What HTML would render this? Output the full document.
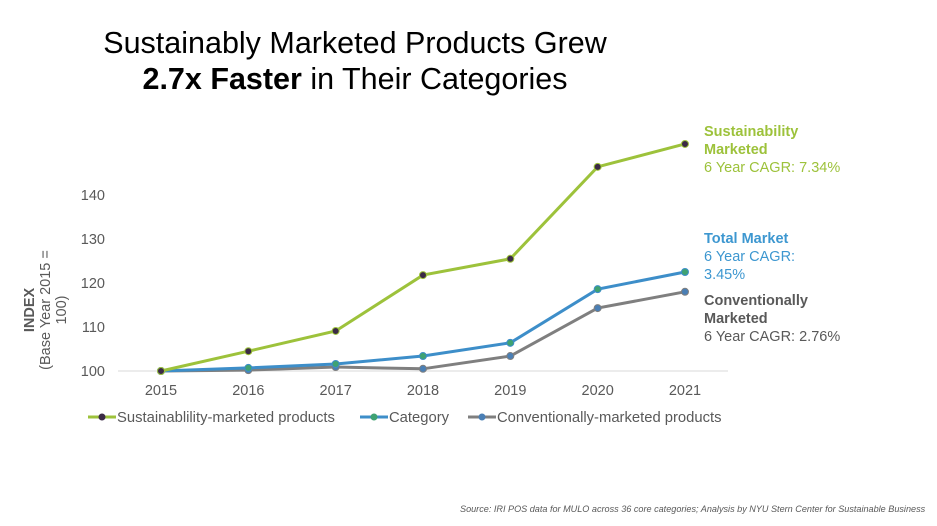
<!DOCTYPE html>
<html><head><meta charset="utf-8"><style>
body{margin:0;background:#fff;font-family:"Liberation Sans",sans-serif}
#wrap{position:relative;width:937px;height:526px;overflow:hidden}
.t{position:absolute;white-space:nowrap}
</style></head><body><div id="wrap">
<div class="t" style="left:0;width:710px;top:25px;text-align:center;font-size:30.5px;line-height:36px;color:#000">Sustainably Marketed Products Grew<br><b>2.7x Faster</b> in Their Categories</div>
<div class="t" style="left:704px;top:123px;font-size:14.5px;line-height:18px;color:#9dc23b"><b>Sustainability<br>Marketed</b><br>6 Year CAGR: 7.34%</div>
<div class="t" style="left:704px;top:230px;font-size:14.5px;line-height:18px;color:#3d97d0"><b>Total Market</b><br>6 Year CAGR:<br>3.45%</div>
<div class="t" style="left:704px;top:292px;font-size:14.5px;line-height:18px;color:#595959"><b>Conventionally<br>Marketed</b><br>6 Year CAGR: 2.76%</div>
<div class="t" style="left:460px;top:504px;font-size:9.1px;font-style:italic;color:#595959">Source: IRI POS data for MULO across 36 core categories; Analysis by NYU Stern Center for Sustainable Business</div>
<svg id="chart" width="937" height="526" style="position:absolute;left:0;top:0"></svg>
</div>
<script>
const years=["2015","2016","2017","2018","2019","2020","2021"];
const sustain=[100,104.5,109.1,121.8,125.5,146.4,151.6];
const category=[100,100.7,101.6,103.4,106.4,118.6,122.5];
const conventional=[100,100.2,100.9,100.5,103.4,114.3,118];
const yTicks=[100,110,120,130,140];
const NS="http://www.w3.org/2000/svg";
const svg=document.getElementById('chart');
const x=i=>161+i*87.33;
const y=v=>371-(v-100)*4.4;
function mk(t,a,p){const e=document.createElementNS(NS,t);for(const k in a)e.setAttribute(k,a[k]);(p||svg).appendChild(e);return e;}
const base=mk('line',{x1:118,x2:728,y1:y(100),y2:y(100),stroke:'#d9d9d9','stroke-width':1});


yTicks.forEach(v=>{const t=mk('text',{x:105,y:y(v)+5,'text-anchor':'end','font-size':14.5,fill:'#595959'});t.textContent=v;

});
years.forEach((yr,i)=>{const t=mk('text',{x:x(i),y:395,'text-anchor':'middle','font-size':14.5,fill:'#595959'});t.textContent=yr;

});
const yt=mk('text',{transform:'translate(34,310) rotate(-90)','text-anchor':'middle','font-size':14.5,fill:'#595959'});


yt.innerHTML='<tspan font-weight="bold" x="0" dy="0">INDEX</tspan><tspan x="0" dy="16">(Base Year 2015 =</tspan><tspan x="0" dy="16">100)</tspan>';
const series=[[conventional,'#7f7f7f','#4a7fb5','conventional'],[category,'#3d8ec9','#3fa272','category'],[sustain,'#9dc23b','#3b2a45','sustainability']];
series.forEach(([d,c,m,n])=>{
 const p=mk('polyline',{points:d.map((v,i)=>x(i)+','+y(v)).join(' '),fill:'none',stroke:c,'stroke-width':3});
 
 
 d.forEach((v,i)=>{const ci=mk('circle',{cx:x(i),cy:y(v),r:3.5,fill:m,stroke:c,'stroke-width':1});
 
 });
});
const leg=[['Sustainablility-marketed products','#9dc23b','#3b2a45',88],['Category','#3d8ec9','#3fa272',360],['Conventionally-marketed products','#7f7f7f','#4a7fb5',468]];
leg.forEach(([l,c,m,lx])=>{const g=mk('g',{});


mk('line',{x1:lx,x2:lx+28,y1:417,y2:417,stroke:c,'stroke-width':3},g);
mk('circle',{cx:lx+14,cy:417,r:3.5,fill:m},g);
const t=mk('text',{x:lx+29,y:422,'font-size':14.8,fill:'#595959'},g);t.textContent=l;});
</script></body></html>
